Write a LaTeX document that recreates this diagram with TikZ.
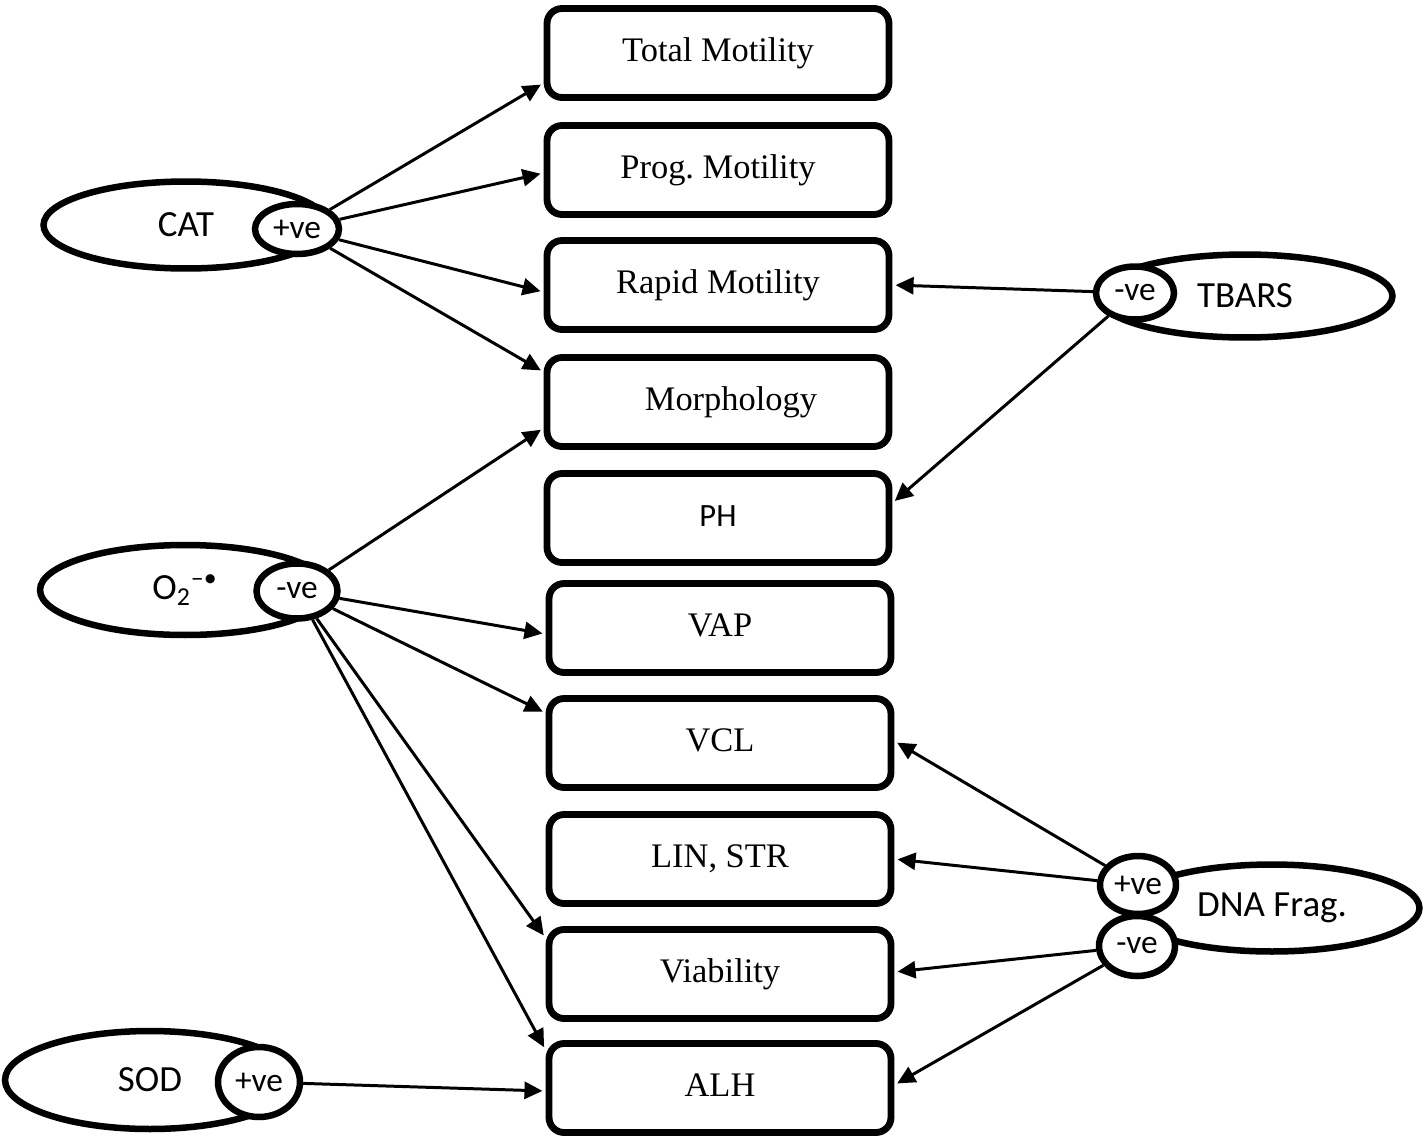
\documentclass[tikz,border=0pt]{standalone}
\usepackage{fontspec}
\setmainfont{Liberation Serif}
\newfontfamily\labelfont{Carlito}
\usetikzlibrary{shapes.geometric,arrows.meta}
\frenchspacing

\begin{document}
\begin{tikzpicture}[x=0.02cm,y=-0.02cm,
  box/.style={draw,line width=3.9pt,rounded corners=0.3cm,minimum width=6.84cm,minimum height=1.78cm,inner sep=0pt,text height=13.5pt,text depth=4.3pt,font=\fontsize{19.6}{22}\selectfont},
  oval/.style={draw,ellipse,line width=3.7pt,inner sep=0pt,font=\labelfont\fontsize{21}{24}\selectfont},
  sign/.style={oval,fill=white,font=\labelfont\fontsize{19}{22}\selectfont},
  link/.style={line width=1.7pt,shorten >=1.8pt,-{Triangle[length=0.36cm,width=0.34cm]}}]

            \useasboundingbox (0,0) rectangle (1424,1140);

            \node[box] (total) at (718,53){Total Motility};
            \node[box] (prog) at (718,170){Prog. Motility};
            \node[box] (rapid) at (718,285){Rapid Motility};
            \node[box] (morph) at (718,402){\hspace*{0.52cm}Morphology};
            \node[box,font=\labelfont\fontsize{18.5}{20}\selectfont] (ph) at (718,518){PH};
            \node[box] (vap) at (720,628){VAP};
            \node[box] (vcl) at (720,743){VCL};
            \node[box] (lin) at (720,859){LIN, STR};
            \node[box] (viab) at (720,974){Viability};
            \node[box] (alh) at (720,1088){ALH};

            \node[oval,minimum width=5.7cm,minimum height=1.74cm] (cat) at (186,225){CAT};
            \node[oval,minimum width=5.8cm,minimum height=1.8cm] (o2) at (185,590){O\textsubscript{2}\textsuperscript{–\textbullet}};
            \node[oval,minimum width=5.9cm,minimum height=1.66cm] (tbars) at (1245,296){TBARS};
            \node[oval,minimum width=5.9cm,minimum height=1.74cm] (dna) at (1272,908){DNA Frag.};
            \node[oval,minimum width=5.8cm,minimum height=1.96cm] (sod) at (150,1080){SOD};

            \node[sign,minimum width=1.68cm,minimum height=1.0cm] (catp) at (297,229){+ve};
            \node[sign,minimum width=1.62cm,minimum height=1.1cm] (o2n) at (297,591){-ve};
            \node[sign,minimum width=1.56cm,minimum height=1.06cm] (tbn) at (1135,293){-ve};
            \node[sign,minimum width=1.52cm,minimum height=1.16cm] (dnap) at (1138,885){+ve};
            \node[sign,minimum width=1.52cm,minimum height=1.2cm] (dnan) at (1137,946){-ve};
            \node[sign,minimum width=1.64cm,minimum height=1.4cm] (sodp) at (259,1082){+ve};

            \draw[link] (catp) -- ([yshift=-0.6cm]total.west);
            \draw[link] (catp) -- ([yshift=-0.06cm]prog.west);
            \draw[link] (catp) -- ([yshift=-0.14cm]rapid.west);
            \draw[link] (catp) -- ([yshift=0.6cm]morph.west);
            \draw[link] (o2n) -- ([yshift=-0.52cm]morph.west);
            \draw[link] (o2n) -- ([yshift=-0.12cm]vap.west);
            \draw[link] (o2n) -- ([yshift=0.6cm]vcl.west);
            \draw[link] (o2n) -- ([yshift=0.72cm]viab.west);
            \draw[link] (o2n) -- ([yshift=0.76cm]alh.west);
            \draw[link] (tbn) -- (rapid.east);
            \draw[link] (tbn) -- ([yshift=0.3cm]ph.east);
            \draw[link] (dnap) -- ([yshift=0.04cm]vcl.east);
            \draw[link] (dnap) -- (lin.east);
            \draw[link] (dnan) -- ([yshift=0.04cm]viab.east);
            \draw[link] (dnan) -- ([yshift=0.06cm]alh.east);
            \draw[link] (sodp) -- ([yshift=-0.06cm]alh.west);

            \end{tikzpicture}
\end{document}
